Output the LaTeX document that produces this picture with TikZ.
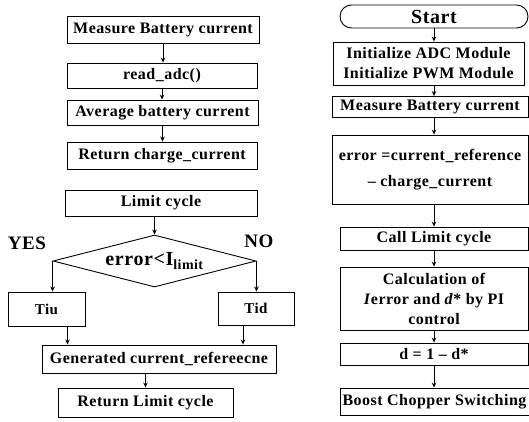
\documentclass[tikz,border=0pt]{standalone}
\usepackage{fontspec}
\setmainfont{Liberation Serif}[LetterSpace=3]
\usetikzlibrary{shapes.geometric,shapes.misc,arrows.meta}
\begin{document}
\begin{tikzpicture}[x=1pt,y=-1pt,
  box/.style={draw, line width=0.9pt, inner sep=1pt, align=center,
    font=\fontsize{16}{20}\selectfont\bfseries},
  arr/.style={-{Stealth[length=5pt,width=4.5pt]}, line width=0.9pt},
  lbl/.style={font=\fontsize{19}{21}\selectfont\bfseries}]
\useasboundingbox (0,0) rectangle (529,421);
% ---------- left column ----------
\node[box, minimum width=192, minimum height=27] (m1) at (163,29.5) {Measure Battery current};
\node[box, minimum width=190, minimum height=25] (m2) at (162,75.5) {read\_adc()};
\node[box, minimum width=191, minimum height=25] (m3) at (162.5,112.5) {Average battery current};
\node[box, minimum width=190, minimum height=27] (m4) at (162,155.5) {Return charge\_current};
\node[box, minimum width=192, minimum height=26] (lc) at (161,203) {Limit cycle};
\node[draw, diamond, aspect=3.9, minimum width=203, minimum height=52, inner sep=0pt,
  line width=0.9pt, font=\fontsize{20}{22}\selectfont\bfseries] (dec) at (154.5,261)
  {error<I\textsubscript{limit}};
\node[lbl] (yes) at (27,243) {YES};
\node[lbl] (no) at (259,241) {NO};
\node[box, minimum width=77, minimum height=34, font=\fontsize{15}{17}\selectfont\bfseries] (tiu) at (46.5,309) {Tiu};
\node[box, minimum width=76, minimum height=33, font=\fontsize{15}{17}\selectfont\bfseries] (tid) at (256,308.5) {Tid};
\node[box, minimum width=234, minimum height=28] (gen) at (159,359) {Generated current\_refereecne};
\node[box, minimum width=175, minimum height=29] (ret) at (145.5,402.5) {Return Limit cycle};
\draw[arr] (m1.south) -- (m1.south |- m2.north);
\draw[arr] (m2.south) -- (m2.south |- m3.north);
\draw[arr] (m3.south) -- (m3.south |- m4.north);
\draw[arr] (dec.north |- lc.south) -- (dec.north);
\draw[arr] (dec.west) -- (dec.west |- tiu.north);
\draw[arr] (dec.east) -- (dec.east |- tid.north);
\draw[arr] ([xshift=21pt]tiu.south) -- ([xshift=21pt]tiu.south |- gen.north);
\draw[arr] ([xshift=-13pt]tid.south) -- ([xshift=-13pt]tid.south |- gen.north);
\draw[arr] (ret.north |- gen.south) -- (ret.north);
% ---------- right column ----------
\node[draw, rounded rectangle, line width=0.9pt, minimum width=188, minimum height=23,
  inner sep=0pt, font=\fontsize{20}{22}\selectfont\bfseries] (st) at (434,16.5) {Start};
\node[box, minimum width=191, minimum height=43] (init) at (428.5,63.5) {Initialize ADC Module\\Initialize PWM Module};
\node[box, minimum width=196, minimum height=21] (mr) at (430,107) {Measure Battery current};
\node[box, minimum width=196, minimum height=69, font=\fontsize{16}{26}\selectfont\bfseries] (err) at (430,169.5) {error =current\_reference\\– charge\_current};
\node[box, minimum width=188, minimum height=23] (call) at (434,238.5) {Call Limit cycle};
\node[box, minimum width=188, minimum height=63] (calc) at (434,298.5) {Calculation of\\\textit{I}error and \textit{d}* by PI\\control};
\node[box, minimum width=188, minimum height=22] (dd) at (434,354) {d = 1 – d*};
\node[box, minimum width=189, minimum height=27] (boost) at (434.5,401.5) {Boost Chopper Switching};
\draw[arr] (st.south) -- (st.south |- init.north);
\draw[arr] (init.south -| st) -- (mr.north -| st);
\draw[arr] (mr.south -| st) -- (err.north -| st);
\draw[arr] (err.south -| st) -- (call.north -| st);
\draw[arr] (call.south) -- (call.south |- calc.north);
\draw[arr] (calc.south) -- (calc.south |- dd.north);
\draw[arr] (dd.south) -- (dd.south |- boost.north);
\end{tikzpicture}
\end{document}
